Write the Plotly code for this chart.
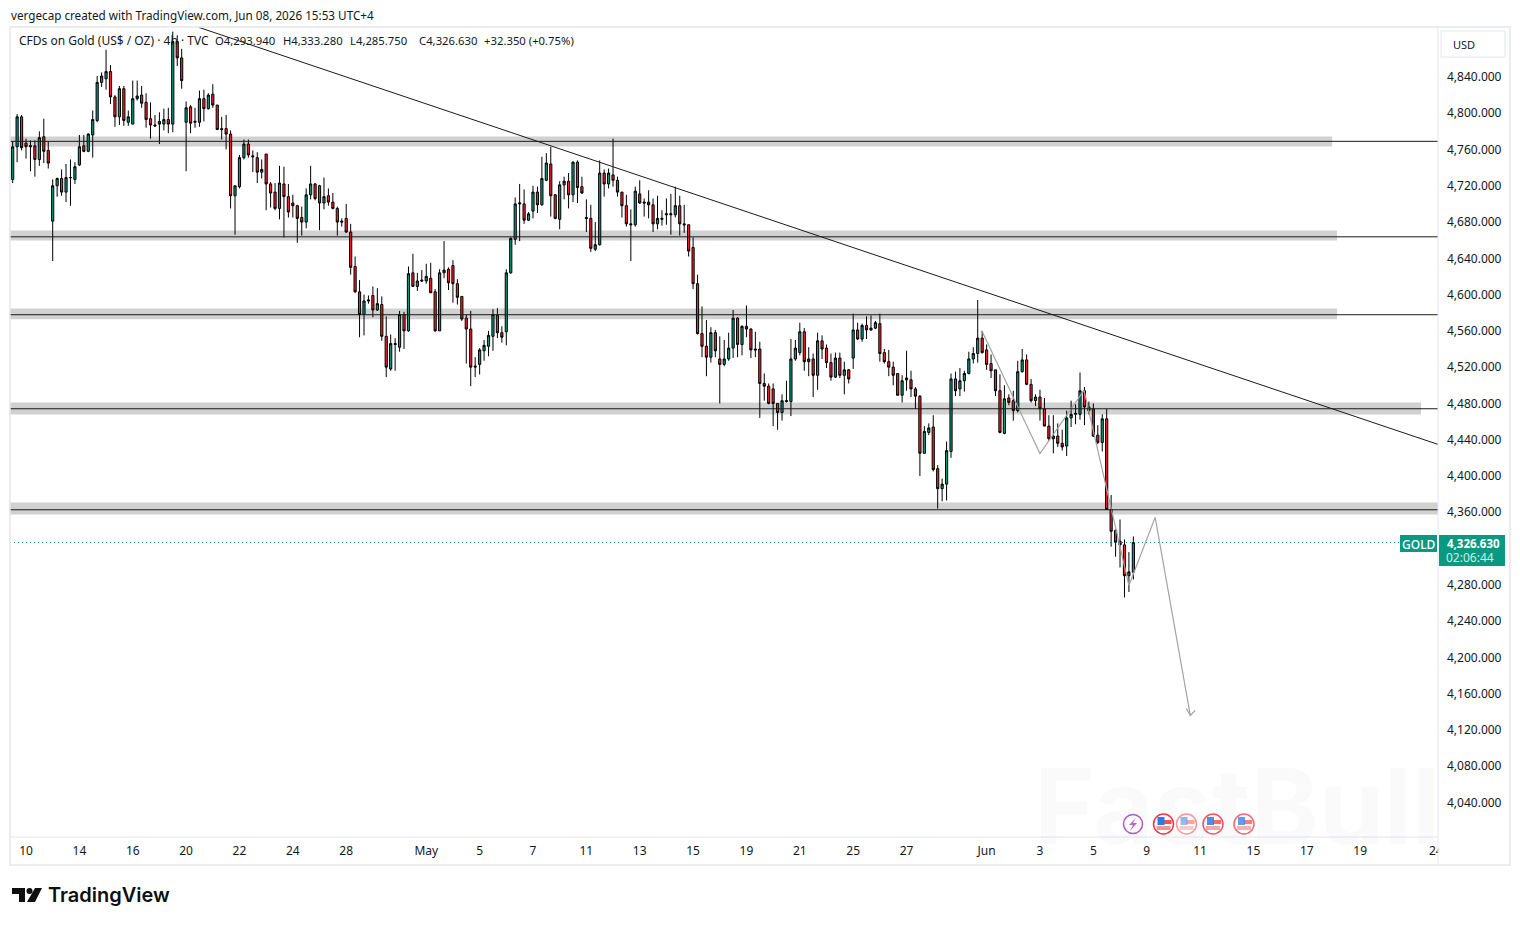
import plotly.graph_objects as go

# Four-hour gold candles, oldest first
opens = [
    4727,4763,4796,4767,4763,4764,4749,4774,4759,4681,
    4720,4728,4713,4729,4727,4743,4764,4758,4776,4792,
    4834,4838,4846,4818,4796,4827,4790,4788,4816,4820,
    4812,4794,4787,4791,4788,4793,4788,4879,4861,4790,
    4807,4790,4790,4816,4805,4821,4809,4783,4783,4777,
    4709,4719,4751,4766,4753,4751,4735,4755,4722,4713,
    4695,4722,4708,4701,4698,4685,4680,4710,4722,4720,
    4701,4709,4702,4695,4681,4684,4669,4631,4603,4578,
    4593,4599,4583,4589,4554,4518,4546,4542,4578,4560,
    4624,4609,4616,4615,4618,4603,4560,4624,4628,4632,
    4612,4598,4574,4562,4520,4523,4538,4543,4554,4577,
    4558,4559,4624,4661,4700,4700,4682,4692,4713,4699,
    4726,4744,4710,4683,4721,4725,4710,4746,4719,4685,
    4684,4650,4655,4734,4722,4732,4726,4713,4698,4678,
    4677,4711,4702,4702,4699,4678,4683,4688,4688,4688,
    4698,4678,4677,4652,4612,4557,4543,4531,4558,4529,
    4523,4529,4541,4574,4545,4565,4562,4540,4540,4502,
    4499,4496,4480,4470,4482,4482,4529,4536,4559,4526,
    4529,4511,4549,4541,4525,4509,4530,4511,4517,4530,
    4561,4551,4566,4561,4563,4568,4536,4526,4520,4513,
    4489,4508,4506,4496,4488,4425,4448,4454,4408,4386,
    4391,4427,4507,4496,4505,4513,4529,4535,4552,4539,
    4524,4517,4494,4447,4486,4483,4472,4515,4528,4501,
    4483,4487,4474,4455,4441,4444,4436,4433,4464,4468,
    4468,4494,4476,4474,4445,4437,4463,4363,4340,4328,
    4324,4290,4293.94,
]
highs = [
    4769,4799,4798,4772,4770,4770,4780,4794,4769,4727,
    4729,4738,4744,4749,4746,4776,4776,4778,4803,4841,
    4845,4870,4853,4820,4830,4830,4803,4836,4836,4830,
    4822,4812,4798,4801,4805,4806,4890,4886,4871,4813,
    4809,4806,4825,4826,4822,4832,4809,4796,4798,4781,
    4720,4754,4771,4771,4759,4757,4749,4755,4724,4723,
    4742,4741,4722,4710,4699,4697,4717,4742,4723,4721,
    4729,4717,4712,4697,4684,4700,4678,4642,4616,4600,
    4599,4609,4607,4598,4576,4556,4552,4582,4581,4631,
    4645,4624,4627,4634,4635,4606,4628,4659,4630,4638,
    4617,4598,4578,4582,4531,4541,4550,4560,4584,4585,
    4565,4628,4663,4707,4722,4716,4691,4720,4719,4752,
    4756,4763,4711,4725,4730,4734,4747,4748,4730,4705,
    4699,4680,4748,4738,4739,4772,4730,4713,4710,4694,
    4719,4726,4706,4715,4706,4709,4693,4706,4711,4719,
    4709,4699,4677,4663,4622,4587,4572,4564,4561,4554,
    4550,4558,4583,4575,4566,4588,4563,4559,4548,4513,
    4502,4502,4480,4490,4505,4551,4550,4569,4563,4542,
    4535,4558,4555,4545,4535,4536,4536,4526,4518,4579,
    4569,4568,4576,4577,4571,4579,4540,4539,4526,4513,
    4511,4538,4516,4498,4489,4455,4458,4467,4412,4397,
    4438,4513,4515,4519,4516,4537,4542,4594,4560,4545,
    4534,4517,4512,4500,4490,4494,4527,4540,4534,4507,
    4490,4495,4486,4467,4467,4458,4451,4472,4483,4479,
    4514,4498,4482,4480,4456,4468,4474,4379,4341,4352,
    4330,4316,4333.28,
]
lows = [
    4723,4746,4759,4750,4736,4730,4742,4745,4739,4637,
    4708,4709,4702,4698,4722,4742,4757,4757,4751,4790,
    4829,4826,4810,4785,4787,4786,4786,4788,4814,4806,
    4784,4772,4785,4766,4781,4778,4779,4852,4827,4736,
    4778,4784,4785,4791,4804,4806,4782,4771,4760,4695,
    4666,4717,4749,4751,4735,4723,4728,4693,4696,4693,
    4683,4663,4685,4685,4657,4665,4673,4705,4704,4671,
    4694,4698,4694,4665,4675,4668,4622,4602,4553,4555,
    4590,4575,4582,4549,4509,4516,4516,4537,4540,4559,
    4609,4604,4614,4612,4602,4559,4560,4618,4605,4591,
    4589,4571,4524,4499,4509,4512,4527,4532,4538,4552,
    4547,4544,4623,4655,4659,4678,4681,4684,4690,4698,
    4725,4686,4683,4672,4705,4695,4702,4701,4711,4669,
    4647,4648,4654,4708,4717,4719,4708,4685,4675,4637,
    4675,4700,4686,4684,4669,4672,4676,4677,4666,4685,
    4665,4668,4642,4606,4556,4531,4510,4525,4531,4480,
    4521,4527,4530,4531,4533,4553,4530,4531,4464,4483,
    4479,4455,4451,4461,4481,4466,4527,4533,4516,4510,
    4487,4495,4529,4519,4505,4508,4508,4490,4502,4518,
    4550,4548,4551,4560,4562,4526,4524,4510,4500,4489,
    4481,4494,4487,4474,4400,4425,4445,4405,4364,4372,
    4373,4420,4488,4488,4493,4512,4524,4525,4535,4517,
    4508,4488,4447,4446,4478,4461,4470,4514,4500,4481,
    4477,4461,4455,4439,4425,4432,4428,4422,4454,4457,
    4462,4456,4468,4443,4435,4427,4363,4322,4311,4299,
    4266,4272,4285.75,
]
closes = [
    4763,4796,4762,4763,4764,4749,4773,4758,4745,4720,
    4728,4713,4729,4729,4741,4763,4758,4777,4793,4834,
    4841,4846,4818,4796,4827,4792,4796,4816,4819,4811,
    4793,4787,4786,4788,4793,4788,4879,4861,4836,4806,
    4789,4791,4816,4805,4820,4809,4782,4782,4777,4709,
    4720,4751,4766,4754,4752,4735,4738,4722,4712,4695,
    4723,4708,4691,4698,4684,4680,4710,4722,4706,4701,
    4708,4702,4695,4680,4680,4669,4630,4603,4578,4593,
    4594,4583,4590,4554,4520,4546,4545,4578,4560,4623,
    4609,4615,4615,4620,4602,4560,4624,4627,4613,4612,
    4597,4573,4562,4520,4521,4539,4544,4555,4578,4558,
    4553,4624,4662,4700,4701,4682,4689,4713,4699,4728,
    4745,4709,4684,4721,4725,4710,4746,4718,4712,4684,
    4651,4655,4734,4722,4734,4726,4713,4698,4678,4677,
    4714,4701,4701,4699,4678,4684,4684,4689,4689,4698,
    4678,4677,4648,4612,4557,4543,4531,4558,4538,4523,
    4529,4541,4574,4545,4565,4562,4539,4539,4502,4499,
    4480,4480,4470,4483,4483,4529,4541,4559,4526,4529,
    4511,4549,4540,4525,4509,4530,4511,4517,4507,4561,
    4551,4566,4561,4563,4569,4535,4526,4520,4511,4489,
    4505,4506,4496,4488,4425,4449,4453,4407,4386,4391,
    4428,4507,4494,4505,4513,4529,4535,4552,4536,4523,
    4516,4494,4448,4485,4481,4472,4515,4528,4501,4483,
    4487,4474,4455,4441,4444,4436,4432,4464,4468,4469,
    4494,4476,4472,4444,4437,4463,4363,4339,4327,4324,
    4290,4294.28,4326.63,
]
bar_index = list(range(len(closes)))

# Date labels on the bar scale
date_ticks = [3, 15, 27, 39, 51, 63, 75, 93, 105, 117, 129, 141, 153, 165, 177,
              189, 201, 219, 231, 243, 255, 267, 279, 291, 303, 320]
date_labels = ["10", "14", "16", "20", "22", "24", "28", "May", "5", "7", "11", "13", "15",
               "19", "21", "25", "27", "Jun", "3", "5", "9", "11", "15", "17", "19", "24"]
price_ticks = list(range(4040, 4841, 40))

# Support and resistance zones: lower edge, upper edge, level, last bar of the box
zone_low = [4763.3, 4659.7, 4572.8, 4467.8, 4357.6]
zone_high = [4774.4, 4670.7, 4584.7, 4481.0, 4370.8]
zone_level = [4769.0, 4663.7, 4577.8, 4474.1, 4362.7]
zone_end = [296.7, 297.8, 297.8, 316.7, 320.5]

# Falling trendline
trend_x = [41.9, 320.5]
trend_y = [4894.6, 4434.8]

# Projected path and its arrow head
path_x = [218.0, 231.0, 240.9, 251.0, 256.9, 264.8]
path_y = [4559.4, 4424.8, 4494.3, 4279.3, 4354.3, 4135.9]
head_x = [263.9, 264.8, 265.9]
head_y = [4143.7, 4135.9, 4141.4]

last_price = 4326.63

GREEN = "#089981"
RED = "#f5222d"
BAND = "#d1d1d1"
FRAME = "#e4e6ec"
INK = "#131722"
FONT = "Noto Sans"

# Page pixels to paper fractions of the 1428x810 plot area
def fx(px):
    return (px - 10) / 1428

def fy(py):
    return (837 - py) / 810

def page_rect(x0, y0, x1, y1, **kw):
    return dict(type="rect", xref="paper", yref="paper",
                x0=fx(x0), x1=fx(x1), y0=fy(y1), y1=fy(y0), **kw)

def page_circle(cx, cy, r, **kw):
    return dict(type="circle", xref="paper", yref="paper",
                x0=fx(cx - r), x1=fx(cx + r), y0=fy(cy + r), y1=fy(cy - r), **kw)

def page_path(points, **kw):
    d = "M" + "L".join(f"{fx(x):.5f},{fy(y):.5f}" for x, y in points) + "Z"
    return dict(type="path", xref="paper", yref="paper", path=d, **kw)

def page_text(x, y, text, size=11, color=INK, anchor="left", **font_kw):
    return dict(xref="paper", yref="paper", x=fx(x), y=fy(y), text=text, showarrow=False,
                xanchor=anchor, yanchor="middle", borderpad=0,
                font=dict(family=FONT, size=size, color=color, **font_kw))

fig = go.Figure()
fig.add_trace(go.Candlestick(
    x=bar_index, open=opens, high=highs, low=lows, close=closes,
    increasing=dict(fillcolor=GREEN, line=dict(color="#000000", width=1)),
    decreasing=dict(fillcolor=RED, line=dict(color="#000000", width=1)),
    whiskerwidth=0, showlegend=False, hoverinfo="skip",
))
fig.add_trace(go.Scatter(x=path_x, y=path_y, mode="lines", showlegend=False, hoverinfo="skip",
                         line=dict(color="#a3a3a3", width=1.2)))
fig.add_trace(go.Scatter(x=head_x, y=head_y, mode="lines", showlegend=False, hoverinfo="skip",
                         line=dict(color="#a3a3a3", width=1.2)))
fig.add_trace(go.Scatter(x=trend_x, y=trend_y, mode="lines", showlegend=False, hoverinfo="skip",
                         line=dict(color="#1a1a1a", width=1)))
fig.add_trace(go.Scatter(x=[-0.6, 320.5], y=[last_price, last_price], mode="lines",
                         showlegend=False, hoverinfo="skip",
                         line=dict(color=GREEN, width=1, dash="1px 3px")))

shapes = []
for low, high, level, end in zip(zone_low, zone_high, zone_level, zone_end):
    shapes.append(dict(type="rect", xref="x", yref="y", x0=-0.6, x1=end, y0=low, y1=high,
                       fillcolor=BAND, line_width=0, layer="below"))
    shapes.append(dict(type="line", xref="x", yref="y", x0=-0.6, x1=320.5, y0=level, y1=level,
                       line=dict(color="#1a1a1a", width=1), layer="above"))

# Chart frame and axis separators
shapes += [
    page_rect(10, 27, 1510, 865, line=dict(color=FRAME, width=1.5), layer="above"),
    dict(type="line", xref="paper", yref="paper", x0=fx(10), x1=fx(1438), y0=fy(837), y1=fy(837),
         line=dict(color=FRAME, width=1)),
    dict(type="line", xref="paper", yref="paper", x0=fx(1438), x1=fx(1438), y0=fy(27), y1=fy(865),
         line=dict(color=FRAME, width=1)),
    # the last date label runs under the price column
    page_rect(1438.5, 840, 1460, 862, fillcolor="#ffffff", line_width=0, layer="above"),
]

# Currency button and last-price tags
shapes += [
    page_rect(1441, 31, 1505, 57, fillcolor="#ffffff", line=dict(color=FRAME, width=1)),
    page_rect(1400, 535, 1437, 552, fillcolor=GREEN, line_width=0, layer="above"),
    page_rect(1439, 535, 1505, 566, fillcolor=GREEN, line_width=0, layer="above"),
]

# Economic event markers on the time scale
shapes.append(page_circle(1133, 824, 9.5, fillcolor="#ffffff", layer="above",
                          line=dict(color="#9c27b0", width=1.5), opacity=0.75))
shapes.append(page_path([(1136, 818), (1129, 825), (1133, 825), (1130, 831), (1137, 823), (1133, 823)],
                        fillcolor="#ba68c8", line_width=0, layer="above"))
for cx, strength in [(1163.5, 1.0), (1186.5, 0.5), (1213, 0.85), (1244, 0.75)]:
    shapes += [
        page_circle(cx, 824, 10, fillcolor="#ffffff", line=dict(color="#f23645", width=1.5),
                    opacity=strength, layer="above"),
        page_rect(cx, 820, cx + 8, 824, fillcolor="#ef5350", line_width=0, opacity=strength, layer="above"),
        page_rect(cx - 7, 826, cx + 7, 830, fillcolor="#ef9a9a", line_width=0, opacity=strength, layer="above"),
        page_rect(cx - 6, 817, cx + 1, 825, fillcolor="#2a7de1", line_width=0, opacity=strength, layer="above"),
    ]

# Footer logo mark
shapes += [
    page_path([(12, 888), (25, 888), (25, 902), (19, 902), (19, 894), (12, 894)],
              fillcolor="#0f0f0f", line_width=0),
    page_circle(29.5, 891, 3, fillcolor="#0f0f0f", line_width=0),
    page_path([(35, 888), (42, 888), (35, 902), (27, 902)], fillcolor="#0f0f0f", line_width=0),
]

annotations = [
    page_text(10, 15, "vergecap created with TradingView.com, Jun 08, 2026 15:53 UTC+4", size=11.7),
    page_text(18, 41, "CFDs on Gold (US$ / OZ) · 4h · TVC", size=12),
    page_text(214, 41, "O4,293.940", size=11.3),
    page_text(282, 41, "H4,333.280", size=11.3),
    page_text(349, 41, "L4,285.750", size=11.3),
    page_text(418, 41, "C4,326.630", size=11.3),
    page_text(483, 41, "+32.350 (+0.75%)", size=11.3),
    page_text(1452, 44, "USD", size=11),
    page_text(1418.5, 544, "GOLD", size=12, color="#ffffff", anchor="center", weight=500),
    page_text(1473.5, 543, "4,326.630", size=11.5, color="#ffffff", anchor="center", weight=700),
    page_text(1470.5, 557.5, "02:06:44", size=12, color="#cfeee6", anchor="center"),
    dict(xref="paper", yref="paper", x=fx(46), y=fy(895), text="TradingView", showarrow=False,
         xanchor="left", yanchor="middle",
         font=dict(family="Inter", size=20, color="#0f0f0f", weight=600)),
    dict(xref="paper", yref="paper", x=fx(1237), y=fy(806), text="FastBull", showarrow=False,
         xanchor="center", yanchor="middle",
         font=dict(family="Inter", size=104, color="rgba(0,0,0,0.018)", weight=700,
                   shadow="0 0 10px rgba(0,0,0,0.035)")),
]

fig.update_layout(
    width=1520, height=925,
    margin=dict(l=10, r=82, t=27, b=88),
    paper_bgcolor="#ffffff", plot_bgcolor="#ffffff",
    font=dict(family=FONT, size=12, color=INK),
    shapes=shapes, annotations=annotations,
    showlegend=False,
)
fig.update_xaxes(
    range=[-0.6, 320.5], rangeslider_visible=False, showgrid=False, zeroline=False,
    tickmode="array", tickvals=date_ticks, ticktext=date_labels, tickangle=0,
    ticks="", ticklabelstandoff=5, tickfont=dict(family=FONT, size=12, color=INK),
)
fig.update_yaxes(
    range=[4001.87, 4895.07], side="right", showgrid=False, zeroline=False,
    tickmode="array", tickvals=price_ticks, tickformat=",.3f",
    ticks="", ticklabelstandoff=8, tickfont=dict(family=FONT, size=12, color=INK),
)

fig.write_html("out.html", config=dict(displayModeBar=False))
